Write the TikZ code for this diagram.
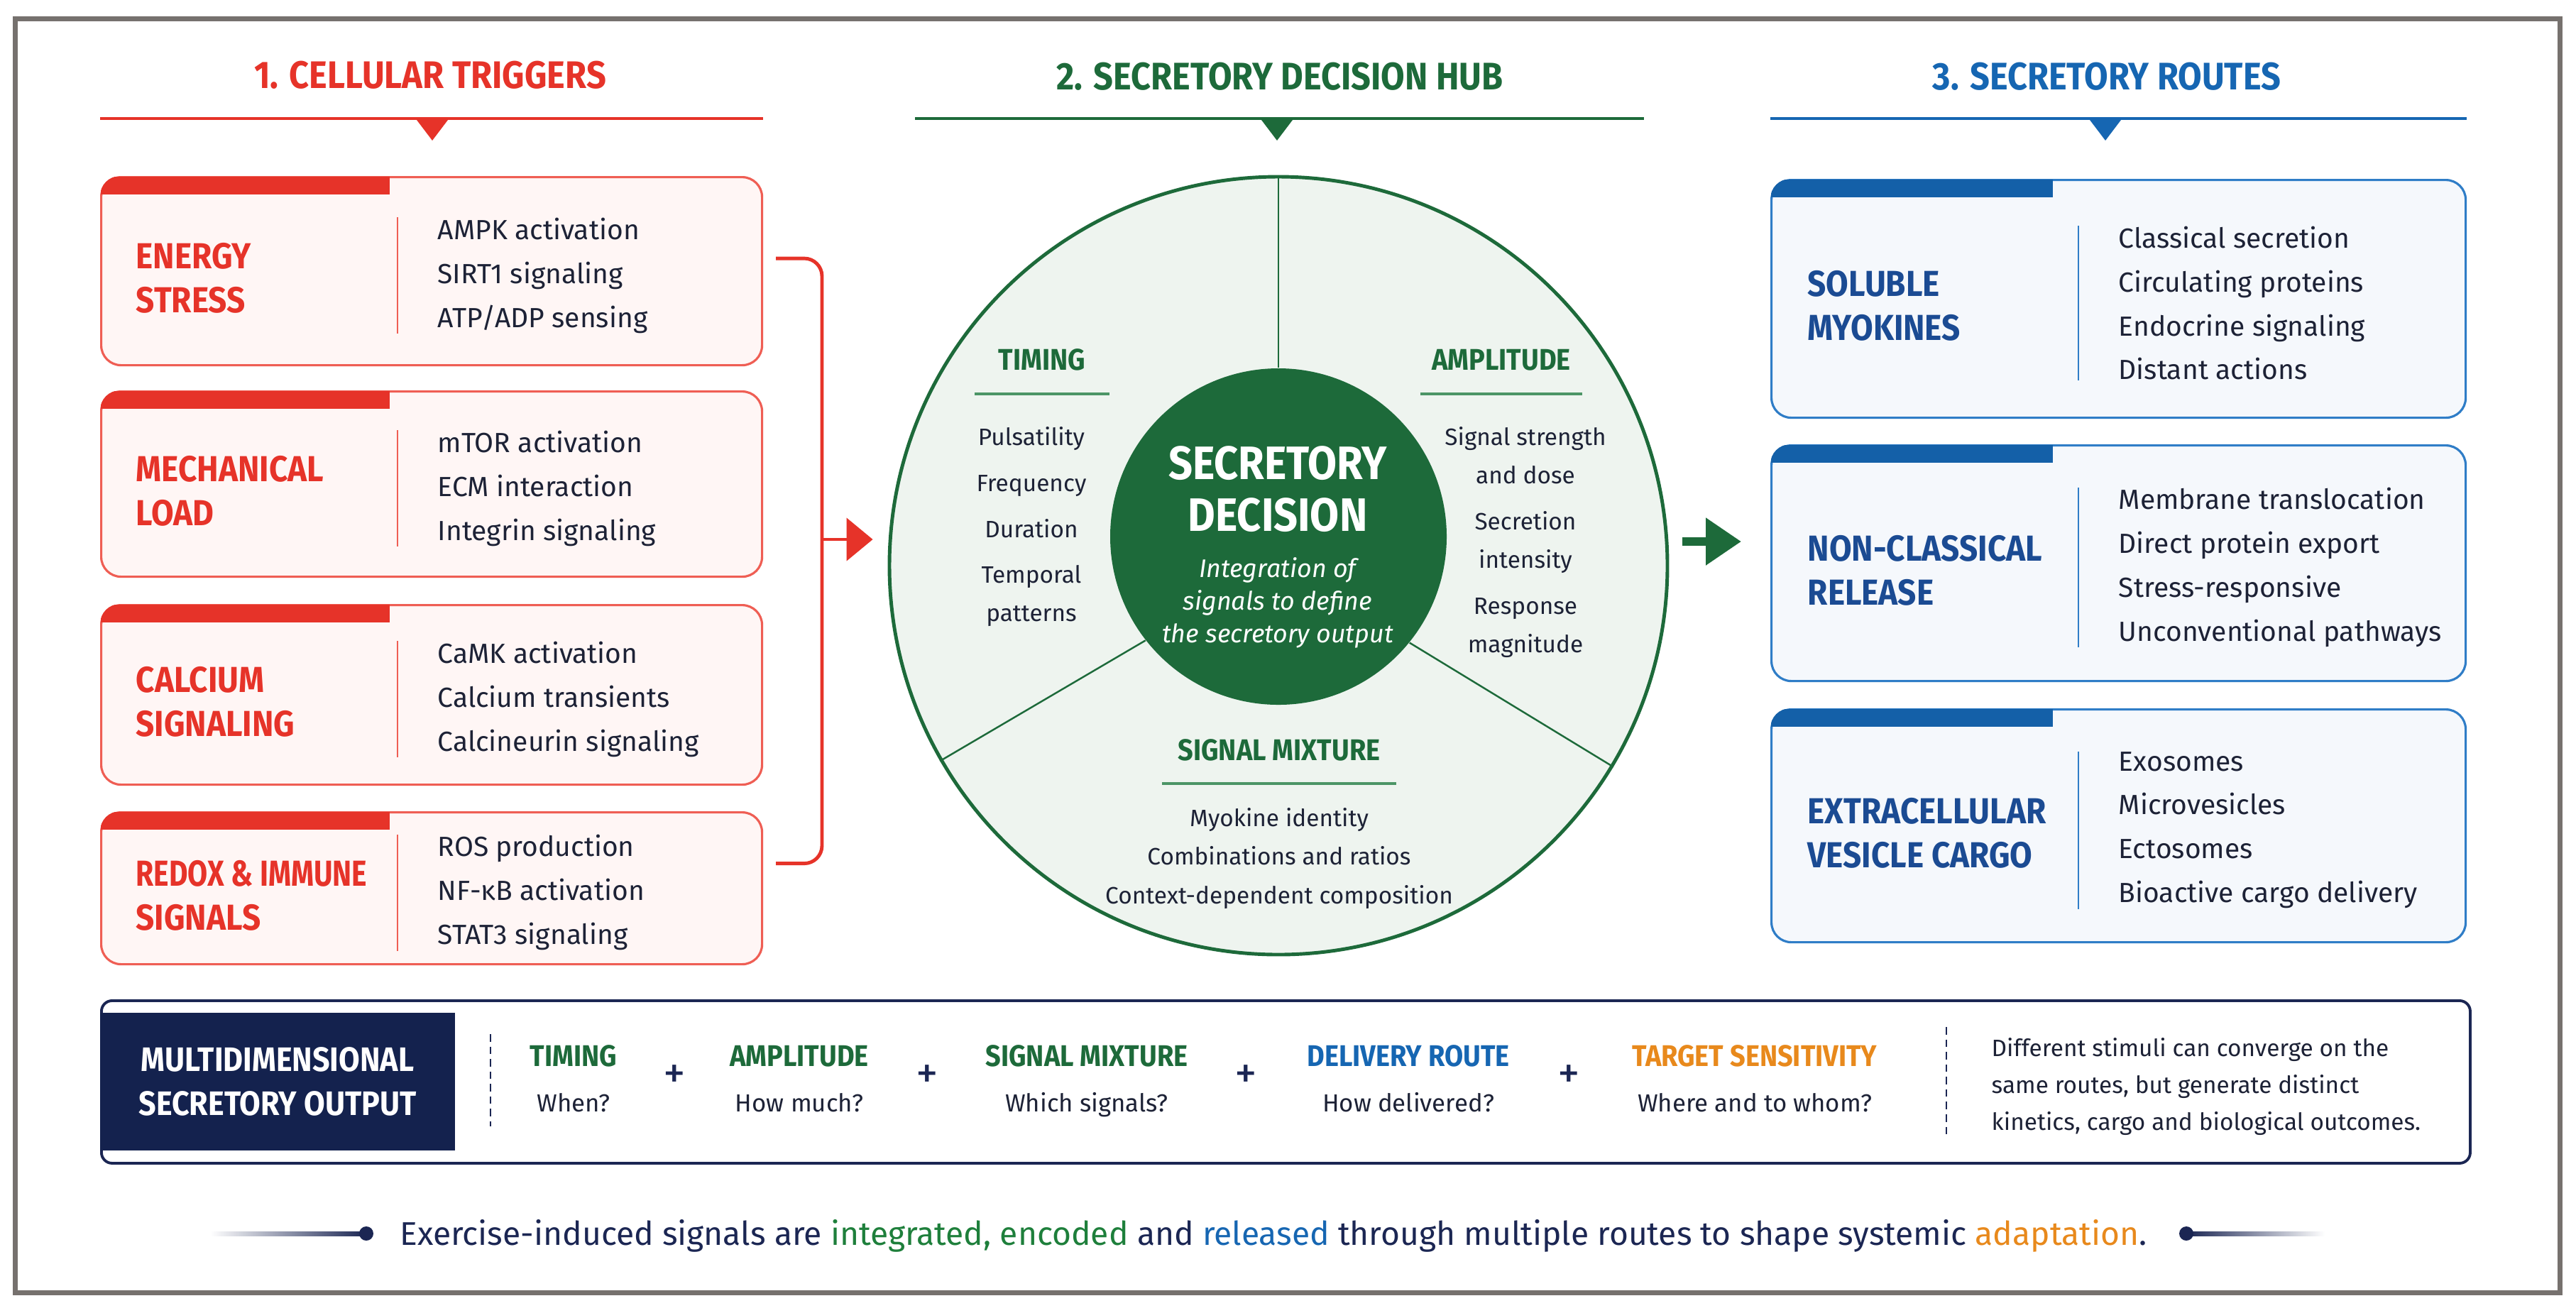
\documentclass[tikz,border=0pt]{standalone}
\usepackage{fontspec}
\setmainfont{Fira Sans}
\newfontfamily\condsf[FakeStretch=0.9]{Fira Sans}
\newfontfamily\narrowsf[FakeStretch=0.8]{Fira Sans}
\usetikzlibrary{arrows.meta,positioning}
\definecolor{trigred}{HTML}{E63329}
\definecolor{trigedge}{HTML}{EF5E54}
\definecolor{trigfill}{HTML}{FFF6F5}
\definecolor{hubgreen}{HTML}{1D6A3A}
\definecolor{hubmid}{HTML}{4C9566}
\definecolor{hubfill}{HTML}{EEF4EF}
\definecolor{footgreen}{HTML}{1E7F3B}
\definecolor{routeblue}{HTML}{1666B2}
\definecolor{routebar}{HTML}{1460A8}
\definecolor{routeedge}{HTML}{2F7DC7}
\definecolor{routefill}{HTML}{F5F8FC}
\definecolor{routeink}{HTML}{1B4B93}
\definecolor{navy}{HTML}{1B2653}
\definecolor{navybox}{HTML}{14224E}
\definecolor{ink}{HTML}{1D2236}
\definecolor{amber}{HTML}{E8891C}
\definecolor{framegray}{HTML}{76716E}
\newcommand{\fsz}[2]{\fontsize{#1}{#2}\selectfont}
\newcommand{\card}[6]{%
  \node[#2card, minimum height=#4cm] (#1) at (#3) {};
  \begin{scope}
    \clip[rounded corners=0.28cm] (#1.south west) rectangle (#1.north east);
    \node[#2tab] at (#1.north west) {};
  \end{scope}
  \node[#2title] (#1-t) at (#1.west) {#5};
  \node[#2items] (#1-i) at (#1.west) {#6};
  \draw[#2div] ([xshift=-0.56cm]#1-i.north west) -- ([xshift=-0.56cm]#1-i.south west);
}
\newcommand{\dimpart}[5]{%
  \node[parthead, text=#3] (#1) at (#2,-15.02) {#4};
  \node[partsub] (#1-q) at (#2,-15.66) {#5};
}
\tikzset{
  framebox/.style={draw=framegray, line width=0.07cm},
  sectitle/.style={font=\condsf\bfseries\fsz{15.4}{18}, inner sep=0pt},
  secrule/.style={line width=1.3pt},
  card/.style={rounded corners=0.28cm, line width=0.9pt, anchor=north west, inner sep=0pt},
  trigcard/.style={card, draw=trigedge, fill=trigfill, minimum width=9.31cm},
  routecard/.style={card, draw=routeedge, fill=routefill, minimum width=9.78cm},
  tab/.style={inner sep=0pt, anchor=north west, minimum height=0.25cm},
  trigtab/.style={tab, fill=trigred, minimum width=4.07cm},
  routetab/.style={tab, fill=routebar, minimum width=3.97cm},
  cardtitle/.style={font=\condsf\bfseries\fsz{14.5}{17.6}, align=left, anchor=west, inner sep=0pt, yshift=-0.1cm},
  trigtitle/.style={cardtitle, text=trigred, xshift=0.5cm},
  routetitle/.style={cardtitle, text=routeink, xshift=0.52cm},
  items/.style={font=\fsz{11.1}{17.6}, text=ink, align=left, anchor=west, inner sep=0pt, yshift=-0.06cm},
  trigitems/.style={items, xshift=4.75cm},
  routeitems/.style={items, xshift=4.9cm},
  trigdiv/.style={draw=trigedge, line width=0.8pt},
  routediv/.style={draw=routeedge, line width=0.8pt},
  bracket/.style={draw=trigred, line width=1.4pt, rounded corners=0.25cm},
  trigarrow/.style={draw=trigred, line width=1.4pt, -{Triangle[length=0.37cm, width=0.6cm]}},
  hubring/.style={circle, draw=hubgreen, fill=hubfill, line width=1.4pt, minimum size=10.96cm, inner sep=0pt},
  hubcore/.style={circle, fill=hubgreen, minimum size=4.74cm, inner sep=0pt},
  spoke/.style={draw=hubgreen, line width=0.7pt},
  hubhead/.style={font=\condsf\bfseries\fsz{12}{14}, text=hubgreen, inner sep=0pt},
  hubrule/.style={draw=hubmid, line width=1pt},
  hubitems/.style={font=\fsz{9.5}{15.4}, text=ink, align=center, inner sep=0pt, anchor=north},
  coretitle/.style={font=\condsf\bfseries\fsz{18.8}{21}, text=white, align=center, inner sep=0pt},
  corenote/.style={font=\itshape\fsz{10.2}{13.1}, text=white, align=center, inner sep=0pt},
  hubarrow/.style={draw=hubgreen, line width=0.12cm, -{Triangle[length=0.5cm, width=0.64cm]}},
  panel/.style={draw=navy, line width=1.1pt, rounded corners=0.15cm, fill=white, anchor=north west, minimum width=33.37cm, minimum height=2.29cm, inner sep=0pt},
  outhead/.style={fill=navybox, text=white, font=\condsf\bfseries\fsz{13.6}{17.6}, align=center, minimum width=5cm, minimum height=1.94cm, inner sep=0pt},
  sepdash/.style={draw=navy, line width=0.7pt, dash pattern=on 3pt off 2pt},
  parthead/.style={font=\condsf\bfseries\fsz{12}{14}, anchor=base, inner sep=0pt},
  partsub/.style={font=\fsz{9.9}{12}, text=ink, anchor=base, inner sep=0pt},
  plus/.style={font=\fsz{18}{18}, text=navy, inner sep=0pt},
  note/.style={font=\fsz{9.5}{14.8}, text=ink, align=left, anchor=north west, inner sep=0pt},
  footer/.style={font=\fsz{13.15}{15}, text=navy, anchor=base, inner sep=0pt},
  footdot/.style={circle, fill=navy, minimum size=0.2cm, inner sep=0pt}
}
\begin{document}
\begin{tikzpicture}
\fill[white] (0,0) rectangle (36.29,-18.49);
\useasboundingbox (0,0) rectangle (36.29,-18.49);
\draw[framebox] (0.215,-0.265) rectangle (36.065,-18.215);

\card{energy}{trig}{1.41,-2.48}{2.65}{ENERGY\\STRESS}{AMPK activation\\SIRT1 signaling\\ATP/ADP sensing}
\card{mechanical}{trig}{1.41,-5.50}{2.61}{MECHANICAL\\LOAD}{mTOR activation\\ECM interaction\\Integrin signaling}
\card{calcium}{trig}{1.41,-8.51}{2.53}{CALCIUM\\SIGNALING}{CaMK activation\\Calcium transients\\Calcineurin signaling}
\card{redox}{trig}{1.41,-11.43}{2.14}{{\narrowsf REDOX \& IMMUNE}\\SIGNALS}{ROS production\\NF-κB activation\\STAT3 signaling}

\card{soluble}{route}{24.94,-2.52}{3.35}{SOLUBLE\\MYOKINES}{Classical secretion\\Circulating proteins\\Endocrine signaling\\Distant actions}
\card{nonclassical}{route}{24.94,-6.26}{3.32}{NON-CLASSICAL\\RELEASE}{Membrane translocation\\Direct protein export\\Stress-responsive\\Unconventional pathways}
\card{vesicle}{route}{24.94,-9.98}{3.28}{EXTRACELLULAR\\VESICLE CARGO}{Exosomes\\Microvesicles\\Ectosomes\\Bioactive cargo delivery}

\node[sectitle, text=trigred] (sec1) at (6.06,-1.06) {1. CELLULAR TRIGGERS};
\node[sectitle, text=hubgreen] (sec2) at (18.03,-1.08) {2. SECRETORY DECISION HUB};
\node[sectitle, text=routeblue] (sec3) at (29.68,-1.08) {3. SECRETORY ROUTES};
\draw[secrule, trigred] (energy.north west |- 0,-1.67) -- (energy.north east |- 0,-1.67);
\draw[secrule, hubgreen] (12.89,-1.67) -- (23.16,-1.67);
\draw[secrule, routeblue] (soluble.north west |- 0,-1.67) -- (soluble.north east |- 0,-1.67);
\fill[trigred] (6.09,-1.65) -- ++(0.25,0) -- ++(-0.25,-0.33) -- ++(-0.25,0.33) -- cycle;
\fill[hubgreen] (17.99,-1.65) -- ++(0.25,0) -- ++(-0.25,-0.33) -- ++(-0.25,0.33) -- cycle;
\fill[routeblue] (29.66,-1.65) -- ++(0.25,0) -- ++(-0.25,-0.33) -- ++(-0.25,0.33) -- cycle;

\node[hubring] (hub) at (18.01,-7.97) {};
\node[hubcore] (core) at (18.01,-7.56) {};
\draw[spoke] (hub.90) -- (core.90);
\draw[spoke] (core.218) -- (hub.210.3);
\draw[spoke] (core.321.5) -- (hub.329.7);
\node[coretitle] (core-t) at (18.00,-6.89) {SECRETORY\\DECISION};
\node[corenote] (core-n) at (18.00,-8.49) {Integration of\\signals to define\\the secretory output};

\node[hubhead] (timing) at (14.68,-5.07) {TIMING};
\draw[hubrule] ([yshift=-0.48cm]timing.center) ++(-0.95,0) -- ++(1.9,0);
\node[hubitems] (timing-i) at (14.53,-6.01) {Pulsatility\\[3pt]Frequency\\[3pt]Duration\\[3pt]Temporal\\patterns};
\node[hubhead] (amplitude) at (21.15,-5.07) {AMPLITUDE};
\draw[hubrule] ([yshift=-0.48cm]amplitude.center) ++(-1.14,0) -- ++(2.28,0);
\node[hubitems] (amplitude-i) at (21.49,-6.01) {Signal strength\\and dose\\[3pt]Secretion\\intensity\\[3pt]Response\\magnitude};
\node[hubhead] (mixture) at (18.02,-10.57) {SIGNAL MIXTURE};
\draw[hubrule] ([yshift=-0.47cm]mixture.center) ++(-1.65,0) -- ++(3.3,0);
\node[hubitems] (mixture-i) at (18.02,-11.38) {Myokine identity\\Combinations and ratios\\Context-dependent composition};

\coordinate (brk) at (11.58,-7.60);
\draw[bracket] ([xshift=0.18cm,yshift=0.18cm]energy.east) -| (brk) |- ([xshift=0.18cm,yshift=0.35cm]redox.east);
\draw[trigarrow, shorten >=0.21cm] (brk) -- (brk -| hub.west);
\coordinate (hubout) at ([xshift=0.19cm,yshift=0.34cm]hub.east);
\draw[hubarrow, shorten >=0.41cm] (hubout) -- (hubout -| nonclassical.west);

\node[panel] (panel) at (1.41,-14.08) {};
\node[outhead] (outhead) at (3.91,-15.24) {MULTIDIMENSIONAL\\SECRETORY OUTPUT};
\draw[sepdash] (6.91,-14.57) -- (6.91,-15.87);
\dimpart{ptiming}{8.08}{hubgreen}{TIMING}{When?}
\dimpart{pamplitude}{11.26}{hubgreen}{AMPLITUDE}{How much?}
\dimpart{pmixture}{15.31}{hubgreen}{SIGNAL MIXTURE}{Which signals?}
\dimpart{proute}{19.84}{routeblue}{DELIVERY ROUTE}{How delivered?}
\dimpart{ptarget}{24.72}{amber}{TARGET SENSITIVITY}{Where and to whom?}
\node[plus] (plus1) at (9.50,-15.17) {+};
\node[plus] (plus2) at (13.06,-15.17) {+};
\node[plus] (plus3) at (17.55,-15.17) {+};
\node[plus] (plus4) at (22.10,-15.17) {+};
\draw[sepdash] (27.42,-14.47) -- (27.42,-16.00);
\node[note] (note) at (28.05,-14.62) {Different stimuli can converge on the\\same routes, but generate distinct\\kinetics, cargo and biological outcomes.};

\node[footer] (foot) at (17.94,-17.54) {Exercise-induced signals are \textcolor{footgreen}{integrated,} \textcolor{footgreen}{encoded} and \textcolor{routeblue}{released} through multiple routes to shape systemic \textcolor{amber}{adaptation}.};
\coordinate (fadel) at (2.96,-17.38);
\coordinate (dl) at (5.16,-17.38);
\coordinate (dr) at (30.80,-17.38);
\coordinate (fader) at (32.75,-17.38);
\shade[left color=white, right color=navy] ([yshift=0.03cm]fadel) rectangle ([yshift=-0.03cm]dl);
\shade[left color=navy, right color=white] ([yshift=0.03cm]dr) rectangle ([yshift=-0.03cm]fader);
\node[footdot] (dotl) at (dl) {};
\node[footdot] (dotr) at (dr) {};
\end{tikzpicture}
\end{document}
